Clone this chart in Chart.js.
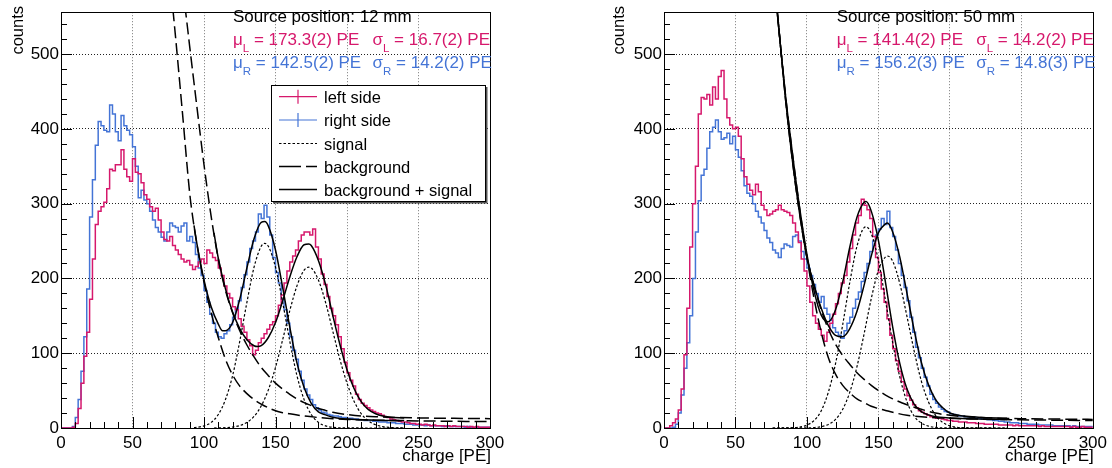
<!DOCTYPE html>
<html><head><meta charset="utf-8">
<script src="https://cdn.jsdelivr.net/npm/chart.js@4.4.1/dist/chart.umd.min.js"></script>
<style>
html,body{margin:0;padding:0;background:#fff;}
#wrap{position:relative;width:1112px;height:468px;overflow:hidden;}
canvas{position:absolute;top:0;}
</style></head><body>
<div id="wrap"><canvas id="c1" width="556" height="468" style="left:0"></canvas><canvas id="c2" width="556" height="468" style="left:556px"></canvas></div>
<script>
// ---------------- data ----------------
const binWidth = 2;            // PE per bin, bins from 0 to 300
const xTickValues = [0, 50, 100, 150, 200, 250, 300];
const yTickValues = [0, 100, 200, 300, 400, 500];

// 12 mm: left side (pink) and right side (blue) histograms, 150 bins of 2 PE
const left12 = [
 0,0,0,0,1, 6,26,60,96,128, 172,226,272,290,296, 302,320,346,344,352,
 352,372,346,336,330, 360,342,340,328,312, 306,296,290,294,278, 262,252,250,256,244,
 238,232,226,222,224, 218,212,216,222,226, 220,238,234,228,224, 214,204,190,180,174,
 162,158,146,136,128, 118,110,98,104,114, 120,126,132,138,142, 150,164,178,194,210,
 222,230,238,250,258, 262,262,258,266,242, 226,206,192,176,160, 150,138,122,106,88,
 74,64,56,45,38, 33,30,27,24,22, 20,19,17,15,14, 12,11,10,9,8,
 8,7,6,6,5, 5,4,5,4,3, 4,3,3,3,2, 3,2,3,2,2, 2,2,1,2,1, 2,1,1,1,1
];
const right12 = [
 0,0,0,0,2, 14,38,76,122,186, 282,332,378,410,404, 398,396,432,420,396,
 384,418,404,398,392, 376,350,308,318,305, 300,290,278,268,262, 255,250,262,274,270,
 268,262,270,274,250, 256,248,232,214,204, 184,168,152,140,128, 122,120,126,130,138,
 148,160,170,188,205, 222,240,250,262,286, 280,298,282,258,228, 208,194,172,158,140,
 122,104,92,76,64, 52,44,38,31,27, 24,21,20,18,17, 16,16,15,14,14,
 13,13,12,12,11, 11,10,10,10,9, 9,8,8,8,7, 7,7,6,6,6,
 5,5,5,4,4, 4,4,3,4,3, 3,3,3,2,3, 2,2,2,2,2, 2,1,2,1,1, 1,1,1,1,1
];
// 50 mm
const left50 = [
 0,0,3,7,12, 24,52,98,160,242, 300,350,420,442,440, 446,432,456,440,470,
 478,440,415,405,400, 402,390,360,336,326, 318,312,326,316,298, 292,284,286,290,292,
 298,292,290,288,284, 274,262,248,226,210, 190,168,150,140,132, 124,116,128,140,152,
 166,180,194,204,222, 240,258,274,284,306, 298,292,280,256,228, 208,186,168,146,124,
 106,90,76,62,52, 43,37,31,27,23, 21,19,17,15,14, 13,13,12,11,10,
 10,9,9,8,8, 8,7,7,7,6, 6,6,5,5,5, 5,5,4,4,4,
 4,4,3,4,3, 3,3,3,3,3, 3,2,3,2,2, 2,2,2,2,2, 2,2,1,2,1, 1,2,1,1,1
];
const right50 = [
 0,0,0,1,5, 20,44,80,114,150, 200,262,304,338,346, 374,396,402,412,396,
 386,388,394,380,390, 372,362,344,324,314, 310,300,290,282,274, 264,254,248,238,234,
 228,240,246,244,242, 256,258,250,236,226, 214,204,192,180,168, 176,160,152,144,134,
 128,124,120,130,140, 148,160,172,182,196, 208,220,236,250,258, 266,280,272,290,268,
 256,238,220,204,188, 170,148,128,108,94, 80,68,56,45,38, 33,28,25,22,21,
 19,18,17,16,16, 15,15,14,14,13, 13,12,12,11,11, 10,10,9,9,8,
 8,7,7,7,6, 6,6,5,5,5, 5,4,4,4,4, 4,3,3,3,3, 3,3,2,3,2, 2,2,2,2,2
];

// fit curves: [PE, counts]
const bgLeft12 = [[84,610],[86,575],[88,543],[90,510],[95,430],[100,352],[105,283],[110,226],[115,184],[120,154],[125,130],[130,111],[135,95],[140,81],[145,70],[150,60],[155,52],[160,45],[165,39],[170,34],[175,30],[180,26],[185,23.5],[190,21],[200,18],[210,16],[220,15],[250,13.5],[300,12.5]];
const sigLeft12 = [[107,0],[115,0.5],[120,1.3],[125,3.3],[130,7.5],[135,15.5],[140,29.5],[145,51],[150,81],[155,118],[160,157],[165,190],[170,211],[173.3,215],[175,214],[180,198],[185,168],[190,130],[195,92],[200,60],[205,35.5],[210,19],[215,9.5],[220,4.3],[225,1.8],[230,0.7],[240,0.1]];
const totLeft12 = [[107,261],[110,227],[115,186],[120,155],[125,133],[130,118],[135,110],[137.5,109],[140,110],[145,121],[150,141],[155,170],[160,202],[165,229],[170,245],[173.3,246],[175,244],[180,224],[185,192],[190,151],[195,112],[200,78],[205,52.5],[210,35],[215,24.5],[220,19],[225,16],[230,14.5],[240,13.5]];
const bgRight12 = [[76,605],[78,565],[80,525],[85,420],[90,314],[93,270],[95,246],[100,195],[105,154],[110,121],[115,92],[120,71],[125,56],[130,46],[135,38],[140,32],[145,27],[150,23],[155,20.5],[160,19],[170,16],[180,14],[190,12.5],[200,11.5],[220,10.5],[250,9.5],[300,8.5]];
const sigRight12 = [[93,0.6],[95,0.9],[100,2.8],[105,7.5],[110,18],[115,38],[120,70],[125,116],[130,168],[135,215],[140,243],[142.5,247],[145,243],[150,215],[155,168],[160,116],[165,70],[170,38],[175,18],[180,7.5],[185,2.8],[190,0.9],[200,0.1],[240,0]];
const totRight12 = [[93,271],[95,247],[100,198],[105,162],[110,139],[113,130],[115,130],[120,141],[125,172],[130,214],[135,253],[140,275],[142.5,276],[145,270],[150,238],[155,188],[160,135],[165,87],[170,54],[175,33],[180,21.5],[185,17.5],[190,14.5],[200,12],[220,10.5],[240,10]];

const bgLeft50 = [[76,620],[78,580],[80,540],[85,445],[90,365],[95,292],[100,228],[105,173],[110,128],[115,94],[120,72],[125,57],[130,47],[135,39],[140,34],[145,29],[150,26],[155,23.5],[160,21],[170,17],[180,15],[200,13],[250,11],[300,10]];
const sigLeft50 = [[76,0],[90,0.3],[95,1.3],[100,3.8],[105,10],[110,23],[115,48],[120,86],[125,138],[130,195],[135,243],[140,268],[141.4,269],[145,260],[150,224],[155,170],[160,114],[165,68],[170,35],[175,16],[180,6.7],[185,2.5],[190,0.8],[200,0.1],[240,0]];
const totLeft50 = [[76,620],[78,580],[80,540],[85,445],[90,365],[95,293],[100,232],[105,183],[110,151],[115,142],[120,158],[125,195],[130,242],[135,282],[140,302],[141.4,303],[145,290],[150,251],[155,194],[160,135],[165,86],[170,52],[175,32],[180,22],[185,17.5],[190,15],[200,13.5],[220,12],[240,11.5]];
const bgRight50 = [[76,625],[78,583],[80,542],[85,440],[90,355],[95,285],[100,228],[105,190],[110,158],[115,132],[120,112],[125,97],[130,85],[135,74],[140,65],[145,57],[150,50],[155,44],[160,39],[170,31],[180,25],[190,20],[200,17],[220,14],[250,12.5],[300,11.5]];
const sigRight50 = [[76,0],[100,0.2],[105,0.6],[110,1.8],[115,4.8],[120,11.5],[125,25],[130,48],[135,82],[140,126],[145,173],[150,211],[155,229],[156.2,230],[160,223],[165,193],[170,149],[175,103],[180,63],[185,35],[190,17],[195,7.4],[200,2.9],[205,1],[210,0.3],[240,0]];
const totRight50 = [[76,625],[78,583],[80,542],[85,440],[90,355],[95,285],[100,228],[105,191],[110,160],[115,137],[120,124],[125,122],[130,133],[135,156],[140,191],[145,230],[150,261],[155,273],[156.2,274],[160,262],[165,228],[170,180],[175,131],[180,88],[185,58],[190,38],[195,27],[200,20],[210,16],[220,14.5],[240,13]];

const legendLabels = ['left side', 'right side', 'signal', 'background', 'background + signal'];

// ---------------- style ----------------
const FF = "'Liberation Sans', Arial, Helvetica, sans-serif";
const PINK = '#d6186c';
const BLUE = '#4474d6';
Chart.defaults.font.family = FF;
Chart.defaults.font.size = 17;
Chart.defaults.color = '#000';

function histPoints(vals) {
  const pts = vals.map((v, i) => ({x: i * binWidth + binWidth / 2, y: v}));
  pts.unshift({x: 0, y: vals[0]});
  pts.push({x: 300, y: vals[vals.length - 1]});
  return pts;
}
function curvePoints(arr) { return arr.map(p => ({x: p[0], y: p[1]})); }

function histDS(vals, color, order) {
  return {data: histPoints(vals), borderColor: color, borderWidth: 1.5, stepped: 'middle',
          pointRadius: 0, fill: false, order: order};
}
function curveDS(arr, dash, width) {
  return {data: curvePoints(arr), borderColor: '#000', borderWidth: width, borderDash: dash,
          cubicInterpolationMode: 'monotone', pointRadius: 0, fill: false, order: 1};
}

const rootFrame = {
  id: 'rootFrame',
  afterDraw(chart) {
    const {ctx, chartArea: a} = chart;
    const x = chart.scales.x, y = chart.scales.y;
    ctx.save();
    ctx.strokeStyle = '#000';
    ctx.lineWidth = 1;
    ctx.setLineDash([]);
    ctx.beginPath();
    for (let v = 0; v <= 540; v += 20) {
      const py = Math.round(y.getPixelForValue(v)) + 0.5;
      const len = v % 100 === 0 ? 11 : 6;
      ctx.moveTo(a.left, py); ctx.lineTo(a.left + len, py);
    }
    for (let v = 0; v <= 300; v += 10) {
      const px = Math.round(x.getPixelForValue(v)) + 0.5;
      const len = v % 50 === 0 ? 11 : 6;
      ctx.moveTo(px, a.bottom); ctx.lineTo(px, a.bottom - len);
    }
    ctx.stroke();
    ctx.strokeRect(Math.round(a.left) + 0.5, Math.round(a.top) + 0.5,
                   Math.round(a.right - a.left), Math.round(a.bottom - a.top));
    ctx.restore();
  }
};

function drawStat(ctx, x, y, greek, sub, rest, color) {
  ctx.fillStyle = color;
  ctx.font = '17px ' + FF;
  ctx.fillText(greek, x, y);
  const w = ctx.measureText(greek).width;
  ctx.font = '11.5px ' + FF;
  ctx.fillText(sub, x + w, y + 7);
  const w2 = ctx.measureText(sub).width;
  ctx.font = '17px ' + FF;
  ctx.fillText(rest, x + w + w2, y);
}

const rootText = {
  id: 'rootText',
  afterDraw(chart, args, o) {
    const ctx = chart.ctx;
    ctx.save();
    ctx.textBaseline = 'alphabetic';
    ctx.textAlign = 'left';
    ctx.fillStyle = '#000';
    // axis titles
    ctx.font = '16.5px ' + FF;
    ctx.save();
    ctx.translate(o.countsX, 6);
    ctx.rotate(-Math.PI / 2);
    ctx.textAlign = 'right';
    ctx.fillText('counts', 0, 0);
    ctx.restore();
    ctx.font = '17px ' + FF;
    ctx.textAlign = 'right';
    ctx.fillText('charge [PE]', chart.chartArea.right + 1, 461);
    ctx.textAlign = 'left';
    // stats
    ctx.font = '17px ' + FF;
    ctx.fillStyle = '#000';
    ctx.fillText(o.title, o.tx, 22);
    drawStat(ctx, o.tx, 44.5, 'μ', 'L', o.muL, PINK);
    drawStat(ctx, o.tx + 139.5, 44.5, 'σ', 'L', o.sigL, PINK);
    drawStat(ctx, o.tx, 68.3, 'μ', 'R', o.muR, BLUE);
    drawStat(ctx, o.tx + 139.5, 68.3, 'σ', 'R', o.sigR, BLUE);
    // legend
    if (o.legend) {
      const bx = 271.5, by = 85.5, bw = 214, bh = 116;
      ctx.fillStyle = '#fff';
      ctx.fillRect(bx, by, bw, bh);
      ctx.strokeStyle = '#000';
      ctx.lineWidth = 1;
      ctx.strokeRect(bx, by, bw, bh);
      ctx.fillStyle = '#555';
      ctx.fillRect(bx + bw + 0.5, by + 1.5, 1.5, bh);
      ctx.fillRect(bx + 1.5, by + bh + 0.5, bw, 1.5);
      const rows = [96.7, 120, 143.5, 166.5, 189.5];
      const styles = [
        {c: PINK, d: [], w: 1.2, err: true},
        {c: BLUE, d: [], w: 1.2, err: true},
        {c: '#000', d: [2.5, 2], w: 1.2},
        {c: '#000', d: [22, 5], w: 1.5},
        {c: '#000', d: [], w: 1.5}
      ];
      rows.forEach((ry, i) => {
        const s = styles[i];
        ctx.strokeStyle = s.c; ctx.lineWidth = s.w; ctx.setLineDash(s.d);
        ctx.beginPath(); ctx.moveTo(279, ry); ctx.lineTo(317, ry); ctx.stroke();
        if (s.err) {
          ctx.setLineDash([]);
          ctx.beginPath(); ctx.moveTo(298, ry - 7); ctx.lineTo(298, ry + 7); ctx.stroke();
        }
        ctx.setLineDash([]);
        ctx.fillStyle = '#000';
        ctx.font = '16.5px ' + FF;
        ctx.fillText(legendLabels[i], 324, ry + 6);
      });
    }
    ctx.restore();
  }
};

function makeChart(id, hl, hr, bgL, sigL, totL, bgR, sigR, totR, yAxisWidth, padRight, text) {
  return new Chart(document.getElementById(id), {
    type: 'line',
    data: {datasets: [
      curveDS(totR, [], 1.5), curveDS(totL, [], 1.5),
      curveDS(sigR, [2.5, 2], 1.2), curveDS(sigL, [2.5, 2], 1.2),
      curveDS(bgR, [12, 5], 1.5), curveDS(bgL, [12, 5], 1.5),
      histDS(hl, PINK, 5), histDS(hr, BLUE, 6)
    ]},
    options: {
      responsive: false, animation: false, devicePixelRatio: 1,
      layout: {padding: {top: 6, right: padRight, left: 0, bottom: 0}},
      plugins: {legend: {display: false}, tooltip: {enabled: false}, rootText: text},
      scales: {
        x: {type: 'linear', min: 0, max: 300,
            afterBuildTicks: s => { s.ticks = xTickValues.map(v => ({value: v})); },
            afterFit: s => { s.height = 40; },
            ticks: {padding: 5, maxRotation: 0, autoSkip: false, font: {size: 17}},
            grid: {drawTicks: false, lineWidth: 1,
                   color: c => (c.tick && (c.tick.value === 0 || c.tick.value === 300)) ? 'rgba(0,0,0,0)' : '#777'},
            border: {display: false, dash: [1, 2]}},
        y: {type: 'linear', min: 0, max: 556,
            afterBuildTicks: s => { s.ticks = yTickValues.map(v => ({value: v})); },
            afterFit: s => { s.width = yAxisWidth; },
            ticks: {padding: 2, autoSkip: false, font: {size: 17}},
            grid: {drawTicks: false, lineWidth: 1,
                   color: c => (c.tick && c.tick.value === 0) ? 'rgba(0,0,0,0)' : '#222'},
            border: {display: false, dash: [1, 2]}}
      }
    },
    plugins: [rootFrame, rootText]
  });
}

makeChart('c1', left12, right12, bgLeft12, sigLeft12, totLeft12, bgRight12, sigRight12, totRight12, 61, 66,
  {countsX: 23, tx: 233, title: 'Source position: 12 mm',
   muL: ' = 173.3(2) PE', sigL: ' = 16.7(2) PE', muR: ' = 142.5(2) PE', sigR: ' = 14.2(2) PE', legend: true});
makeChart('c2', left50, right50, bgLeft50, sigLeft50, totLeft50, bgRight50, sigRight50, totRight50, 108, 19,
  {countsX: 68, tx: 280.7, title: 'Source position: 50 mm',
   muL: ' = 141.4(2) PE', sigL: ' = 14.2(2) PE', muR: ' = 156.2(3) PE', sigR: ' = 14.8(3) PE', legend: false});
</script>
</body></html>
